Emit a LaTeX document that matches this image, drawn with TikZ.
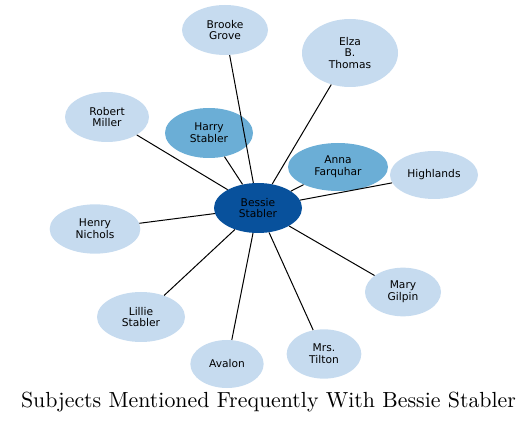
\documentclass[tikz,border=0pt]{standalone}
\usepackage{fontspec}
\usetikzlibrary{shapes.geometric}
\newfontfamily\labelfont{DejaVu Sans}
\definecolor{hubblue}{HTML}{08519C}
\definecolor{midblue}{HTML}{6BAED6}
\definecolor{paleblue}{HTML}{C6DBEF}
\begin{document}
\begin{tikzpicture}[
 x=.75pt,y=-.75pt,
 line/.style={line width=.75pt},
 subject/.style={ellipse,fill=paleblue,inner sep=0pt,align=center,
  font=\labelfont\fontsize{8}{8.75}\selectfont},
 near/.style={subject,fill=midblue},
 hub/.style={subject,fill=hubblue}]
 \useasboundingbox (0,0) rectangle (529,424);
 % Centre of the star.
 \node[hub,minimum width=66pt,minimum height=37.5pt] (bessie) at (258,208) {Bessie\\Stabler};
 % Frequent subjects, darker shade.
 \node[near,minimum width=66pt,minimum height=37.5pt] (harry) at (209,133) {Harry\\Stabler};
 \node[near,minimum width=75pt,minimum height=36pt] (anna) at (338,167) {Anna\\Farquhar};
 % Other subjects, clockwise from the top.
 \node[subject,minimum width=64.5pt,minimum height=37.5pt] (brooke) at (225,30) {Brooke\\Grove};
 \node[subject,minimum width=72pt,minimum height=51pt] (elza) at (350,53) {Elza\\B.\\Thomas};
 \node[subject,minimum width=66pt,minimum height=36pt] (highlands) at (434,175) {Highlands};
 \node[subject,minimum width=57pt,minimum height=36.5pt] (mary) at (403,292) {Mary\\Gilpin};
 \node[subject,minimum width=56pt,minimum height=37pt] (tilton) at (324,354) {Mrs.\\Tilton};
 \node[subject,minimum width=55pt,minimum height=36pt] (avalon) at (227,364) {Avalon};
 \node[subject,minimum width=66pt,minimum height=37.5pt] (lillie) at (141,317) {Lillie\\Stabler};
 \node[subject,minimum width=68pt,minimum height=37pt] (henry) at (95,229) {Henry\\Nichols};
 \node[subject,minimum width=63pt,minimum height=37.5pt] (robert) at (107,117) {Robert\\Miller};
 % Spokes.
 \foreach \n in {harry,anna,brooke,elza,highlands,mary,tilton,avalon,lillie,henry,robert}
  \draw[line] (bessie)--(\n);
 % Caption.
 \node[anchor=base,scale=1.64,inner sep=0pt] (caption) at (268.5,407) {Subjects Mentioned Frequently With Bessie Stabler};
\end{tikzpicture}
\end{document}
